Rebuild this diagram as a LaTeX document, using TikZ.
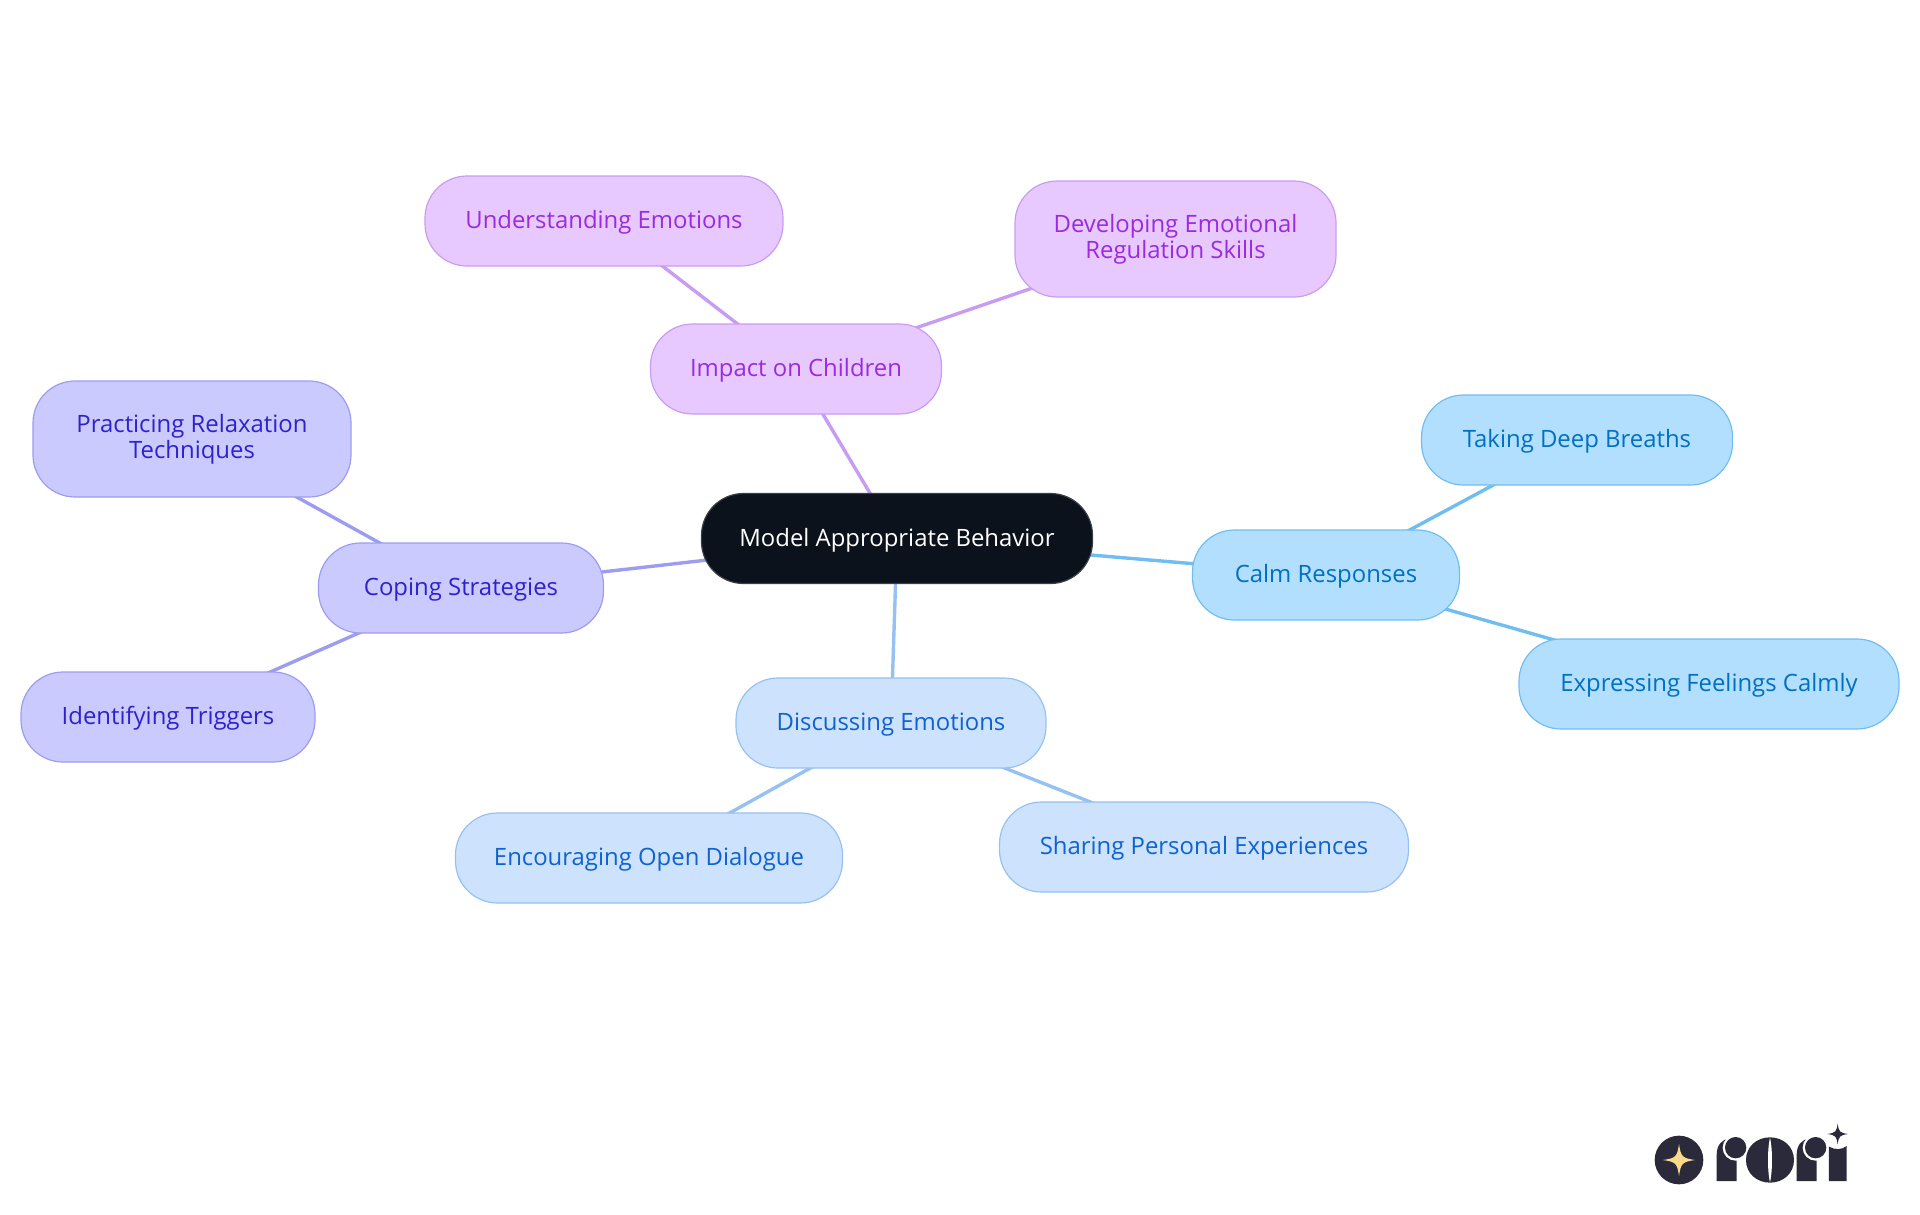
\documentclass[tikz,border=0pt]{standalone}
\usepackage{fontspec}
\setmainfont{Open Sans}
\usetikzlibrary{backgrounds}
\definecolor{rootfill}{HTML}{0C121B}\definecolor{rootline}{HTML}{3A3F47}
\definecolor{pfill}{HTML}{E7C9FF}\definecolor{pline}{HTML}{C99CF3}\definecolor{ptext}{HTML}{9A2BDF}
\definecolor{bfill}{HTML}{B3DFFF}\definecolor{bline}{HTML}{72BDF0}\definecolor{btext}{HTML}{0070C0}
\definecolor{lfill}{HTML}{CDE3FD}\definecolor{lline}{HTML}{97C1F0}\definecolor{ltext}{HTML}{0F62CF}
\definecolor{ifill}{HTML}{CACAFF}\definecolor{iline}{HTML}{9C9CF0}\definecolor{itext}{HTML}{2E22CC}
\definecolor{logodark}{HTML}{2A2A3A}\definecolor{logostar}{HTML}{F9D98A}
\tikzset{
  mm/.style={rectangle,rounded corners=42pt,inner sep=0pt,minimum height=90pt,line width=1.2pt,align=center,
    font=\fontsize{23.9}{26}\selectfont,execute at begin node={\rule{0pt}{0.9em}}},
  tall/.style={minimum height=116pt},
  rootn/.style={mm,fill=rootfill,draw=rootline,text=white},
  pn/.style={mm,fill=pfill,draw=pline,text=ptext},
  bn/.style={mm,fill=bfill,draw=bline,text=btext},
  ln/.style={mm,fill=lfill,draw=lline,text=ltext},
  indn/.style={mm,fill=ifill,draw=iline,text=itext},
  conn/.style={line width=3.4pt},
}
\newcommand{\starshape}[3]{% centre x, y, half size
  (#1-#3,#2) .. controls (#1-0.2*#3,#2-0.12*#3) and (#1-0.12*#3,#2-0.2*#3) .. (#1,#2-#3)
  .. controls (#1+0.12*#3,#2-0.2*#3) and (#1+0.2*#3,#2-0.12*#3) .. (#1+#3,#2)
  .. controls (#1+0.2*#3,#2+0.12*#3) and (#1+0.12*#3,#2+0.2*#3) .. (#1,#2+#3)
  .. controls (#1-0.12*#3,#2+0.2*#3) and (#1-0.2*#3,#2+0.12*#3) .. (#1-#3,#2) -- cycle}
\begin{document}
\begin{tikzpicture}[x=1pt,y=-1pt]
\useasboundingbox (0,0) rectangle (1920,1215);
\node[rootn,minimum width=391pt] (root) at (897,538.5) {Model Appropriate Behavior};
\node[pn,minimum width=291pt] (impact) at (796,369) {Impact on Children};
\node[pn,minimum width=358pt] (under) at (604,221) {Understanding Emotions};
\node[pn,tall,minimum width=321pt] (devel) at (1175.5,239) {Developing Emotional\\Regulation Skills};
\node[indn,minimum width=285pt] (coping) at (461,588) {Coping Strategies};
\node[indn,tall,minimum width=318pt] (relax) at (192,439) {Practicing Relaxation\\Techniques};
\node[indn,minimum width=294pt] (trig) at (168,717) {Identifying Triggers};
\node[bn,minimum width=267pt] (calm) at (1326,575) {Calm Responses};
\node[bn,minimum width=311pt] (deep) at (1577,440) {Taking Deep Breaths};
\node[bn,minimum width=380pt] (feel) at (1709,684) {Expressing Feelings Calmly};
\node[ln,minimum width=310pt] (disc) at (891,723) {Discussing Emotions};
\node[ln,minimum width=387pt] (open) at (649,858) {Encouraging Open Dialogue};
\node[ln,minimum width=409pt] (share) at (1204,847) {Sharing Personal Experiences};
\begin{scope}[on background layer]
\draw[conn,pline] (root.center) -- (impact.center);
\draw[conn,pline] (impact.center) -- (under.center);
\draw[conn,pline] (impact.center) -- (devel.center);
\draw[conn,iline] (root.center) -- (coping.center);
\draw[conn,iline] (coping.center) -- (relax.center);
\draw[conn,iline] (coping.center) -- (trig.center);
\draw[conn,bline] (root.center) -- (calm.center);
\draw[conn,bline] (calm.center) -- (deep.center);
\draw[conn,bline] (calm.center) -- (feel.center);
\draw[conn,lline] (root.center) -- (disc.center);
\draw[conn,lline] (disc.center) -- (open.center);
\draw[conn,lline] (disc.center) -- (share.center);
\end{scope}
% logo
\begin{scope}[shift={(1620,1100)},x=0.3333pt,y=-0.3333pt]
\fill[logodark] (177,180) circle [radius=73];
\fill[logostar] \starshape{177}{180}{48};
\fill[logodark] (290,243) -- (290,165) .. controls (290,135) and (305,118) .. (330,115)
  -- (350,115) -- (350,243) -- cycle;
\fill[white] (347,143) circle [radius=39];
\fill[logodark] (347,143) circle [radius=32];
\fill[logodark] (378,180) .. controls (378,140) and (410,112) .. (450,112)
  .. controls (490,112) and (522,140) .. (522,180)
  .. controls (522,220) and (490,248) .. (450,248)
  .. controls (410,248) and (378,220) .. (378,180) -- cycle;
\fill[white] (450,112) .. controls (442,150) and (442,210) .. (450,248)
  .. controls (458,210) and (458,150) .. (450,112) -- cycle;
\fill[logodark] (530,243) -- (530,165) .. controls (530,135) and (545,118) .. (570,115)
  -- (590,115) -- (590,243) -- cycle;
\fill[white] (587,143) circle [radius=39];
\fill[logodark] (587,143) circle [radius=32];
\fill[logodark] (627,243) -- (627,140) .. controls (645,150) and (665,150) .. (680,138) -- (680,243) -- cycle;
\fill[logodark] \starshape{653}{102}{31};
\end{scope}
\end{tikzpicture}
\end{document}
